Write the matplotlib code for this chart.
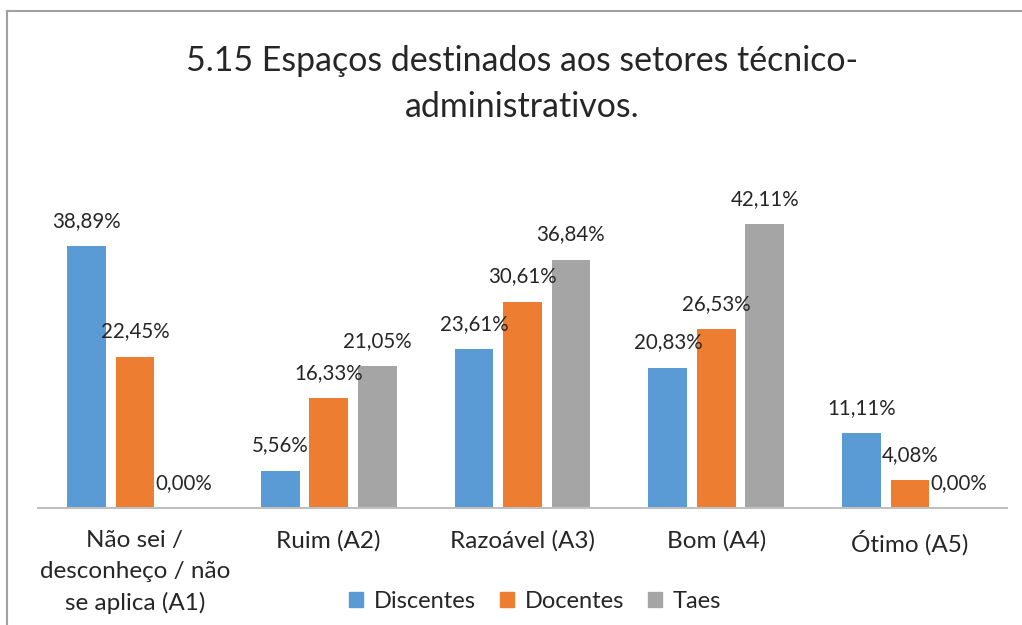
import matplotlib.pyplot as plt
from matplotlib.lines import Line2D
from matplotlib.patches import Patch
import numpy as np

plt.rcParams['font.family'] = ['Lato', 'DejaVu Sans']

categorias = ["Não sei /\ndesconheço / não\nse aplica (A1)", "Ruim (A2)",
              "Razoável (A3)", "Bom (A4)", "Ótimo (A5)"]
discentes = [38.89, 5.56, 23.61, 20.83, 11.11]
docentes = [22.45, 16.33, 30.61, 26.53, 4.08]
taes = [0.00, 21.05, 36.84, 42.11, 0.00]
series = ["Discentes", "Docentes", "Taes"]
cores = ["#5B9BD5", "#ED7D31", "#A5A5A5"]

W, H = 1022, 625
fig = plt.figure(figsize=(W / 100, H / 100), dpi=100)
ax = fig.add_axes([38 / W, (H - 508) / H, (1007 - 38) / W, (508 - 204.5) / H])

x = np.arange(len(categorias))
largura = 0.2
for i, (vals, cor) in enumerate(zip([discentes, docentes, taes], cores)):
    pos = x + (i - 1) * 0.25
    ax.bar(pos, vals, largura, color=cor, zorder=2)
    for p, v in zip(pos, vals):
        ax.annotate(f"{v:.2f}%".replace(".", ","), (p, v), xytext=(0, 25),
                    textcoords="offset pixels", ha="center", va="center",
                    fontsize=14.8, color="#262626")

ax.set_xlim(-0.5, len(categorias) - 0.5)
ax.set_ylim(0, 45)
ax.set_yticks([])
for s in ["top", "left", "right"]:
    ax.spines[s].set_visible(False)
ax.spines["bottom"].set_color("#BFBFBF")
ax.spines["bottom"].set_linewidth(1.5)
ax.set_xticks(x)
ax.set_xticklabels(categorias, fontsize=17.5, color="#262626", linespacing=1.55)
ax.tick_params(axis="x", length=0, pad=16)

fig.text(522 / W, 1 - 84 / H, "5.15 Espaços destinados aos setores técnico-\nadministrativos.",
         ha="center", va="center", fontsize=24.4, color="#262626", linespacing=1.55)

handles = [Patch(color=c, label=s) for s, c in zip(series, cores)]
fig.legend(handles=handles, loc="center", bbox_to_anchor=(535 / W, 1 - 601 / H), ncol=3,
           frameon=False, fontsize=17, handlelength=0.6, handleheight=0.6,
           handletextpad=0.45, columnspacing=1.0, labelcolor="#262626")

# moldura do gráfico
fig.add_artist(Line2D([7 / W, 7 / W], [0, 1 - 11 / H], transform=fig.transFigure,
                      color="#A0A0A0", lw=1.5))
fig.add_artist(Line2D([7 / W, 1], [1 - 11 / H, 1 - 11 / H], transform=fig.transFigure,
                      color="#A0A0A0", lw=1.5))

fig.savefig("out.png", dpi=100, facecolor="white")
